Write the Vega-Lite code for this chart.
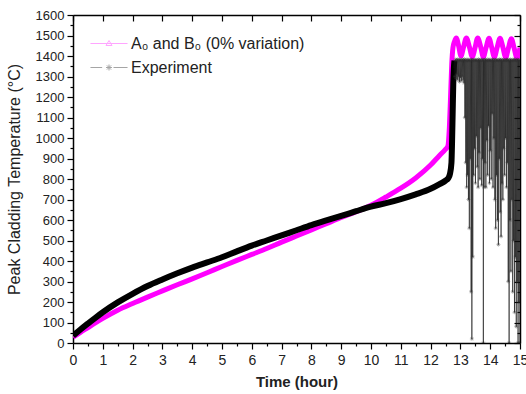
{
  "$schema": "https://vega.github.io/schema/vega-lite/v6.json",
  "width": 447,
  "height": 328,
  "autosize": {"type": "none"},
  "padding": {"left": 73, "top": 15, "right": 6, "bottom": 51},
  "config": {
    "view": {"stroke": null},
    "font": "Liberation Sans",
    "axis": {"grid": false, "domainColor": "black", "domainWidth": 1.5, "tickColor": "black", "tickWidth": 1.2, "labelColor": "#222", "titleColor": "#222", "labelFont": "Liberation Sans", "titleFont": "Liberation Sans"}
  },
  "datasets": {
    "sim": [
      {"t": 0, "T": 28}, {"t": 0.25, "T": 52}, {"t": 0.5, "T": 75}, {"t": 0.75, "T": 98}, {"t": 1, "T": 120},
      {"t": 1.5, "T": 160}, {"t": 2, "T": 193}, {"t": 2.5, "T": 224}, {"t": 3, "T": 254}, {"t": 3.5, "T": 284},
      {"t": 4, "T": 313}, {"t": 4.5, "T": 343}, {"t": 5, "T": 373}, {"t": 5.5, "T": 403}, {"t": 6, "T": 432},
      {"t": 6.5, "T": 461}, {"t": 7, "T": 492}, {"t": 7.5, "T": 522}, {"t": 8, "T": 552}, {"t": 8.5, "T": 582},
      {"t": 9, "T": 612}, {"t": 9.5, "T": 640}, {"t": 10, "T": 672}, {"t": 10.5, "T": 712}, {"t": 11, "T": 755},
      {"t": 11.5, "T": 805}, {"t": 12, "T": 868}, {"t": 12.3, "T": 915}, {"t": 12.5, "T": 945}, {"t": 12.58, "T": 960},
      {"t": 12.63, "T": 1050}, {"t": 12.67, "T": 1200}, {"t": 12.71, "T": 1360}, {"t": 12.75, "T": 1440}, {"t": 12.8, "T": 1470},
      {"t": 12.86, "T": 1488}, {"t": 12.94, "T": 1450}, {"t": 13.02, "T": 1400}, {"t": 13.1, "T": 1440}, {"t": 13.2, "T": 1488},
      {"t": 13.3, "T": 1445}, {"t": 13.4, "T": 1396}, {"t": 13.49, "T": 1440}, {"t": 13.58, "T": 1488}, {"t": 13.68, "T": 1445},
      {"t": 13.77, "T": 1396}, {"t": 13.86, "T": 1440}, {"t": 13.96, "T": 1486}, {"t": 14.05, "T": 1442}, {"t": 14.14, "T": 1395},
      {"t": 14.23, "T": 1440}, {"t": 14.33, "T": 1486}, {"t": 14.43, "T": 1440}, {"t": 14.52, "T": 1393}, {"t": 14.61, "T": 1438},
      {"t": 14.71, "T": 1484}, {"t": 14.8, "T": 1440}, {"t": 14.9, "T": 1390}, {"t": 15, "T": 1440}
    ],
    "exp": [
      {"t": 0, "T": 35}, {"t": 0.25, "T": 66}, {"t": 0.5, "T": 95}, {"t": 0.75, "T": 123}, {"t": 1, "T": 150},
      {"t": 1.5, "T": 198}, {"t": 2, "T": 240}, {"t": 2.5, "T": 278}, {"t": 3, "T": 310}, {"t": 3.5, "T": 340},
      {"t": 4, "T": 368}, {"t": 4.5, "T": 393}, {"t": 5, "T": 418}, {"t": 5.5, "T": 447}, {"t": 6, "T": 475},
      {"t": 6.5, "T": 500}, {"t": 7, "T": 525}, {"t": 7.5, "T": 550}, {"t": 8, "T": 575}, {"t": 8.5, "T": 598},
      {"t": 9, "T": 620}, {"t": 9.5, "T": 643}, {"t": 10, "T": 665}, {"t": 10.5, "T": 682}, {"t": 11, "T": 702},
      {"t": 11.5, "T": 725}, {"t": 12, "T": 752}, {"t": 12.3, "T": 775}, {"t": 12.5, "T": 792}, {"t": 12.6, "T": 806},
      {"t": 12.65, "T": 825}, {"t": 12.7, "T": 880}, {"t": 12.72, "T": 980}, {"t": 12.74, "T": 1120}, {"t": 12.76, "T": 1260},
      {"t": 12.78, "T": 1340}, {"t": 12.8, "T": 1378},
      {"t": 12.82, "T": 1300}, {"t": 12.835, "T": 1382}, {"t": 12.85, "T": 1290}, {"t": 12.865, "T": 1380}, {"t": 12.88, "T": 1310},
      {"t": 12.895, "T": 1384}, {"t": 12.91, "T": 1285}, {"t": 12.925, "T": 1378}, {"t": 12.94, "T": 1300}, {"t": 12.955, "T": 1383},
      {"t": 12.97, "T": 1275}, {"t": 12.985, "T": 1380}, {"t": 13.0, "T": 1295}, {"t": 13.015, "T": 1382}, {"t": 13.03, "T": 1280},
      {"t": 13.045, "T": 1379}, {"t": 13.06, "T": 1300}, {"t": 13.075, "T": 1383}, {"t": 13.09, "T": 1285}, {"t": 13.105, "T": 1380},
      {"t": 13.12, "T": 1270}, {"t": 13.135, "T": 1384}, {"t": 13.15, "T": 1100}, {"t": 13.165, "T": 1380}, {"t": 13.18, "T": 880},
      {"t": 13.195, "T": 1382}, {"t": 13.21, "T": 760}, {"t": 13.225, "T": 1378}, {"t": 13.24, "T": 820}, {"t": 13.255, "T": 1383},
      {"t": 13.27, "T": 700}, {"t": 13.285, "T": 1380}, {"t": 13.3, "T": 560}, {"t": 13.315, "T": 1381}, {"t": 13.33, "T": 900},
      {"t": 13.345, "T": 1379}, {"t": 13.36, "T": 250}, {"t": 13.375, "T": 1383}, {"t": 13.385, "T": 20}, {"t": 13.4, "T": 1380},
      {"t": 13.415, "T": 420}, {"t": 13.43, "T": 1382}, {"t": 13.445, "T": 820}, {"t": 13.46, "T": 1378}, {"t": 13.475, "T": 950},
      {"t": 13.49, "T": 1383}, {"t": 13.505, "T": 780}, {"t": 13.52, "T": 1380}, {"t": 13.535, "T": 1010}, {"t": 13.55, "T": 1381},
      {"t": 13.565, "T": 860}, {"t": 13.58, "T": 1379}, {"t": 13.595, "T": 760}, {"t": 13.61, "T": 1384}, {"t": 13.625, "T": 930},
      {"t": 13.64, "T": 1380}, {"t": 13.655, "T": 800}, {"t": 13.67, "T": 1382}, {"t": 13.685, "T": 1050}, {"t": 13.7, "T": 1378},
      {"t": 13.715, "T": 770}, {"t": 13.73, "T": 1383}, {"t": 13.745, "T": 900}, {"t": 13.76, "T": 1380}, {"t": 13.77, "T": 0},
      {"t": 13.78, "T": 1381}, {"t": 13.795, "T": 760}, {"t": 13.81, "T": 1379}, {"t": 13.825, "T": 880}, {"t": 13.84, "T": 1384},
      {"t": 13.855, "T": 760}, {"t": 13.87, "T": 1380}, {"t": 13.885, "T": 990}, {"t": 13.9, "T": 1382}, {"t": 13.915, "T": 820},
      {"t": 13.93, "T": 1378}, {"t": 13.945, "T": 1060}, {"t": 13.96, "T": 1383}, {"t": 13.975, "T": 780}, {"t": 13.99, "T": 1380},
      {"t": 14.005, "T": 940}, {"t": 14.02, "T": 1381}, {"t": 14.035, "T": 800}, {"t": 14.05, "T": 1379}, {"t": 14.065, "T": 1120},
      {"t": 14.08, "T": 1384}, {"t": 14.095, "T": 760}, {"t": 14.11, "T": 1380}, {"t": 14.125, "T": 1000}, {"t": 14.14, "T": 1382},
      {"t": 14.155, "T": 700}, {"t": 14.17, "T": 1378}, {"t": 14.185, "T": 560}, {"t": 14.2, "T": 1383}, {"t": 14.215, "T": 820},
      {"t": 14.23, "T": 1380}, {"t": 14.245, "T": 600}, {"t": 14.26, "T": 1381}, {"t": 14.275, "T": 480}, {"t": 14.29, "T": 1379},
      {"t": 14.305, "T": 900}, {"t": 14.32, "T": 1384}, {"t": 14.335, "T": 640}, {"t": 14.35, "T": 1380}, {"t": 14.365, "T": 520},
      {"t": 14.38, "T": 1382}, {"t": 14.395, "T": 780}, {"t": 14.41, "T": 1378}, {"t": 14.425, "T": 700}, {"t": 14.44, "T": 1383},
      {"t": 14.455, "T": 950}, {"t": 14.47, "T": 1380}, {"t": 14.485, "T": 820}, {"t": 14.5, "T": 1381}, {"t": 14.515, "T": 1000},
      {"t": 14.53, "T": 1379}, {"t": 14.545, "T": 760}, {"t": 14.56, "T": 1384}, {"t": 14.575, "T": 880}, {"t": 14.59, "T": 1380},
      {"t": 14.605, "T": 300}, {"t": 14.62, "T": 1382}, {"t": 14.635, "T": 0}, {"t": 14.65, "T": 1378}, {"t": 14.665, "T": 600},
      {"t": 14.68, "T": 1383}, {"t": 14.695, "T": 350}, {"t": 14.71, "T": 1380}, {"t": 14.725, "T": 700}, {"t": 14.74, "T": 1381},
      {"t": 14.755, "T": 250}, {"t": 14.77, "T": 1379}, {"t": 14.785, "T": 500}, {"t": 14.8, "T": 1384}, {"t": 14.815, "T": 150},
      {"t": 14.83, "T": 1380}, {"t": 14.845, "T": 420}, {"t": 14.86, "T": 1382}, {"t": 14.875, "T": 80}, {"t": 14.89, "T": 1378},
      {"t": 14.905, "T": 300}, {"t": 14.92, "T": 1383}, {"t": 14.935, "T": 0}, {"t": 14.95, "T": 1380}, {"t": 14.965, "T": 200},
      {"t": 14.98, "T": 1381}, {"t": 14.995, "T": 0}
    ],
    "leg": [
      {"series": "A₀ and B₀ (0% variation)"},
      {"series": "Experiment"}
    ]
  },
  "resolve": {"axis": {"x": "independent", "y": "independent"}},
  "layer": [
    {
      "data": {"name": "sim"},
      "mark": {"type": "line", "color": "#ff00ff", "strokeWidth": 5, "interpolate": "monotone", "clip": true},
      "encoding": {
        "x": {"field": "t", "type": "quantitative", "scale": {"domain": [0, 15], "nice": false, "zero": false},
          "axis": {"orient": "bottom", "values": [0,1,2,3,4,5,6,7,8,9,10,11,12,13,14,15], "format": "d", "tickSize": 6, "labelFontSize": 14, "labelPadding": 4, "labelFlush": false, "labelOverlap": false, "title": "Time (hour)", "titleFontSize": 15, "titleFontWeight": "bold", "titlePadding": 7}},
        "y": {"field": "T", "type": "quantitative", "scale": {"domain": [0, 1600], "nice": false},
          "axis": {"orient": "left", "values": [0,100,200,300,400,500,600,700,800,900,1000,1100,1200,1300,1400,1500,1600], "format": "d", "tickSize": 6, "labelFontSize": 13, "labelPadding": 3, "labelOverlap": false, "title": "Peak Cladding Temperature (°C)", "titleFontSize": 16, "titleFontWeight": "normal", "titlePadding": 13}}
      }
    },
    {
      "data": {"name": "exp"},
      "transform": [{"filter": "datum.t <= 12.8"}],
      "mark": {"type": "line", "color": "black", "strokeWidth": 6, "interpolate": "monotone", "clip": true},
      "encoding": {
        "x": {"field": "t", "type": "quantitative",
          "axis": {"orient": "bottom", "values": [0.5,1.5,2.5,3.5,4.5,5.5,6.5,7.5,8.5,9.5,10.5,11.5,12.5,13.5,14.5], "tickSize": 3, "labels": false, "domain": false, "title": null}},
        "y": {"field": "T", "type": "quantitative",
          "axis": {"orient": "left", "values": [50,150,250,350,450,550,650,750,850,950,1050,1150,1250,1350,1450,1550], "tickSize": 3, "labels": false, "domain": false, "title": null}}
      }
    },
    {
      "data": {"name": "exp"},
      "transform": [{"filter": "datum.t >= 12.78"}],
      "mark": {"type": "line", "color": "#111", "strokeWidth": 0.6, "clip": true},
      "encoding": {
        "x": {"field": "t", "type": "quantitative",
          "axis": {"orient": "bottom", "offset": -328, "values": [0,1,2,3,4,5,6,7,8,9,10,11,12,13,14,15], "tickSize": 6, "labels": false, "domain": true, "title": null}},
        "y": {"field": "T", "type": "quantitative",
          "axis": {"orient": "left", "offset": -447, "values": [0,100,200,300,400,500,600,700,800,900,1000,1100,1200,1300,1400,1500,1600], "tickSize": 6, "labels": false, "domain": true, "title": null}}
      }
    },
    {
      "data": {"name": "exp"},
      "transform": [{"filter": "datum.t >= 12.81"}],
      "mark": {"type": "point", "filled": false, "color": "#333", "strokeWidth": 0.5, "size": 16, "shape": "M-1,0L1,0M0,-1L0,1M-0.7,-0.7L0.7,0.7M-0.7,0.7L0.7,-0.7", "clip": true},
      "encoding": {
        "x": {"field": "t", "type": "quantitative", "axis": null},
        "y": {"field": "T", "type": "quantitative",
          "axis": {"orient": "left", "offset": -447, "values": [50,150,250,350,450,550,650,750,850,950,1050,1150,1250,1350,1450,1550], "tickSize": 3, "labels": false, "domain": false, "title": null}}
      }
    },
    {
      "data": {"name": "leg"},
      "mark": {"type": "point", "filled": false, "strokeWidth": 1},
      "encoding": {
        "x": {"field": "t", "type": "quantitative", "axis": null},
        "y": {"field": "T", "type": "quantitative", "axis": null},
        "color": {"field": "series", "type": "nominal",
          "scale": {"domain": ["A₀ and B₀ (0% variation)", "Experiment"], "range": ["#ff80ff", "#808080"]},
          "legend": {"orient": "none", "legendX": 26.5, "legendY": 19, "title": null, "symbolSize": 324, "labelFontSize": 16, "labelFont": "Liberation Sans", "labelColor": "#222", "labelOffset": 12.5, "labelLimit": 0, "rowPadding": 6, "padding": 0, "symbolStrokeWidth": 1}},
        "shape": {"field": "series", "type": "nominal",
          "scale": {"domain": ["A₀ and B₀ (0% variation)", "Experiment"], "range": ["M-2.06,0L2.06,0M-0.33,0.22L0,-0.33L0.33,0.22Z", "M-2.06,0L-0.76,0M0.5,0L2.06,0M-0.33,0L0.33,0M0,-0.33L0,0.33M-0.23,-0.23L0.23,0.23M-0.23,0.23L0.23,-0.23"]},
          "legend": {"orient": "none", "legendX": 26.5, "legendY": 19, "title": null, "symbolSize": 324, "labelFontSize": 16, "labelFont": "Liberation Sans", "labelColor": "#222", "labelOffset": 12.5, "labelLimit": 0, "rowPadding": 6, "padding": 0, "symbolStrokeWidth": 1}}
      }
    }
  ]
}
